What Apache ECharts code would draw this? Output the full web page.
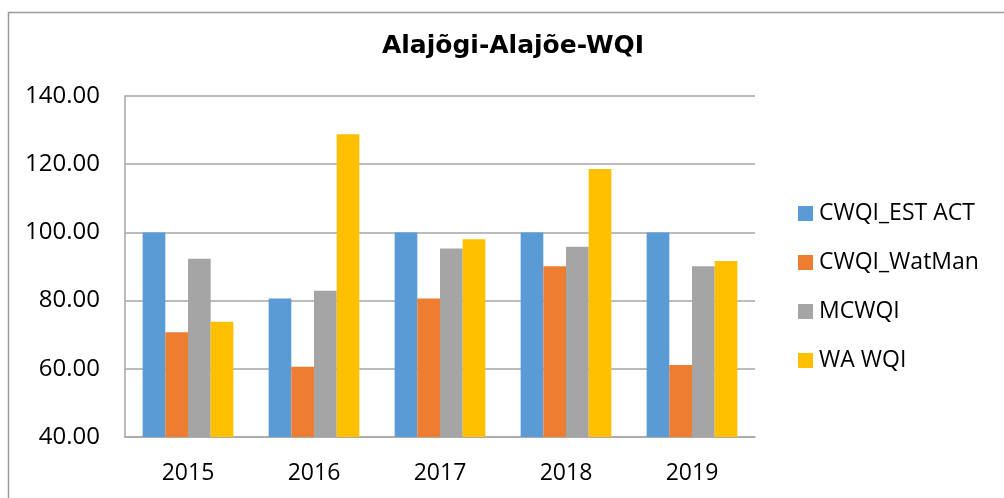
<!DOCTYPE html>
<html>
<head>
<meta charset="utf-8">
<title>Alajõgi-Alajõe-WQI</title>
<script src="https://cdn.jsdelivr.net/npm/echarts@6/dist/echarts.min.js"></script>
<style>
  html, body { margin: 0; padding: 0; background: #fff; }
  #chart { width: 1004px; height: 498px; }
</style>
</head>
<body>
<div id="chart"></div>
<script>
// chart data
const years = ['2015', '2016', '2017', '2018', '2019'];
const seriesNames = ['CWQI_EST ACT', 'CWQI_WatMan', 'MCWQI', 'WA WQI'];
const cwqiEstAct = [100, 80.6, 100, 100, 100];
const cwqiWatMan = [70.7, 60.6, 80.6, 90.1, 61.1];
const mcwqi = [92.3, 82.9, 95.3, 95.8, 90.1];
const waWqi = [73.8, 128.8, 98.0, 118.6, 91.6];
const yMin = 40;
const yMax = 140;
const yStep = 20;

const colors = ['#5B9BD5', '#ED7D31', '#A5A5A5', '#FFC000'];
const gridColor = '#A6A6A6';
const labelFont = '"Open Sans", "Liberation Sans", sans-serif';

const chartDom = document.getElementById('chart');
const myChart = echarts.init(chartDom, null, { renderer: 'canvas' });

const seriesData = [cwqiEstAct, cwqiWatMan, mcwqi, waWqi];

const option = {
  backgroundColor: '#ffffff',
  animation: false,
  color: colors,
  title: {
    text: 'Alajõgi-Alajõe-WQI',
    left: 513,
    top: 34,
    padding: 0,
    textAlign: 'center',
    textStyle: {
      fontFamily: '"DejaVu Sans", sans-serif',
      fontWeight: 'bold',
      fontSize: 25,
      color: '#000'
    }
  },
  graphic: [{
    type: 'rect',
    shape: { x: 8.5, y: 12.5, width: 1100, height: 600 },
    style: { fill: 'none', stroke: '#9A9A9A', lineWidth: 1.5 },
    silent: true
  }],
  legend: {
    orient: 'vertical',
    left: 798,
    top: 202,
    padding: 0,
    itemWidth: 15,
    itemHeight: 15,
    itemGap: 26,
    icon: 'rect',
    data: seriesNames,
    textStyle: {
      fontFamily: labelFont,
      fontSize: 23,
      color: '#000',
      padding: [0, 0, 0, 1]
    }
  },
  grid: {
    left: 125,
    right: 249,
    top: 96,
    bottom: 61,
    containLabel: false
  },
  xAxis: {
    type: 'category',
    data: years,
    axisLine: { show: true, lineStyle: { color: gridColor, width: 1.5 } },
    axisTick: { show: false },
    axisLabel: {
      margin: 25,
      fontFamily: labelFont,
      fontSize: 23,
      color: '#000'
    },
    splitLine: { show: false }
  },
  yAxis: {
    type: 'value',
    min: yMin,
    max: yMax,
    interval: yStep,
    axisLine: { show: true, lineStyle: { color: gridColor, width: 1.5 } },
    axisTick: { show: false },
    axisLabel: {
      margin: 25,
      fontFamily: labelFont,
      fontSize: 24,
      color: '#000',
      formatter: (v) => v.toFixed(2)
    },
    splitLine: { show: true, lineStyle: { color: gridColor, width: 1.5 } }
  },
  series: seriesNames.map((name, i) => ({
    name: name,
    type: 'bar',
    data: seriesData[i],
    barGap: '0%',
    barCategoryGap: '28%',
    itemStyle: { color: colors[i] }
  }))
};

myChart.setOption(option);
window.addEventListener('resize', () => myChart.resize());
</script>
</body>
</html>
